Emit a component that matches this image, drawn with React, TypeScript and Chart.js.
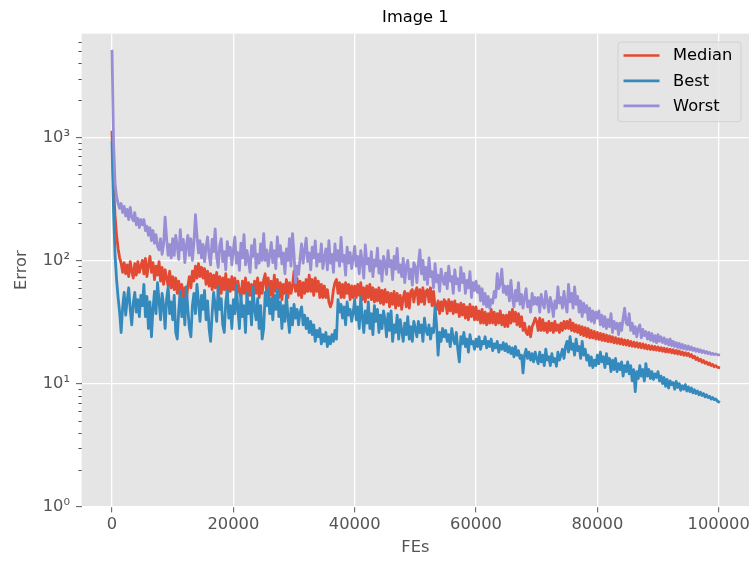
import React, { useEffect, useRef } from "react";
import { Chart, registerables } from "chart.js";

Chart.register(...registerables);

const FONT = "'DejaVu Sans', 'Liberation Sans', sans-serif";

const chartTitle = "Image 1";
const xLabel = "FEs";
const yLabel = "Error";
const seriesNames = ["Median", "Best", "Worst"];
const seriesColors = ["#E24A33", "#348ABD", "#988ED5"];

const fes = [
  0, 250, 500, 750, 1000, 1250, 1500, 1750, 2000, 2250, 2500, 2750, 3000, 3250, 3500, 3750, 4000, 4250, 4500, 4750,
  5000, 5250, 5500, 5750, 6000, 6250, 6500, 6750, 7000, 7250, 7500, 7750, 8000, 8250, 8500, 8750, 9000, 9250, 9500, 9750,
  10000, 10250, 10500, 10750, 11000, 11250, 11500, 11750, 12000, 12250, 12500, 12750, 13000, 13250, 13500, 13750, 14000, 14250, 14500, 14750,
  15000, 15250, 15500, 15750, 16000, 16250, 16500, 16750, 17000, 17250, 17500, 17750, 18000, 18250, 18500, 18750, 19000, 19250, 19500, 19750,
  20000, 20250, 20500, 20750, 21000, 21250, 21500, 21750, 22000, 22250, 22500, 22750, 23000, 23250, 23500, 23750, 24000, 24250, 24500, 24750,
  25000, 25250, 25500, 25750, 26000, 26250, 26500, 26750, 27000, 27250, 27500, 27750, 28000, 28250, 28500, 28750, 29000, 29250, 29500, 29750,
  30000, 30250, 30500, 30750, 31000, 31250, 31500, 31750, 32000, 32250, 32500, 32750, 33000, 33250, 33500, 33750, 34000, 34250, 34500, 34750,
  35000, 35250, 35500, 35750, 36000, 36250, 36500, 36750, 37000, 37250, 37500, 37750, 38000, 38250, 38500, 38750, 39000, 39250, 39500, 39750,
  40000, 40250, 40500, 40750, 41000, 41250, 41500, 41750, 42000, 42250, 42500, 42750, 43000, 43250, 43500, 43750, 44000, 44250, 44500, 44750,
  45000, 45250, 45500, 45750, 46000, 46250, 46500, 46750, 47000, 47250, 47500, 47750, 48000, 48250, 48500, 48750, 49000, 49250, 49500, 49750,
  50000, 50250, 50500, 50750, 51000, 51250, 51500, 51750, 52000, 52250, 52500, 52750, 53000, 53250, 53500, 53750, 54000, 54250, 54500, 54750,
  55000, 55250, 55500, 55750, 56000, 56250, 56500, 56750, 57000, 57250, 57500, 57750, 58000, 58250, 58500, 58750, 59000, 59250, 59500, 59750,
  60000, 60250, 60500, 60750, 61000, 61250, 61500, 61750, 62000, 62250, 62500, 62750, 63000, 63250, 63500, 63750, 64000, 64250, 64500, 64750,
  65000, 65250, 65500, 65750, 66000, 66250, 66500, 66750, 67000, 67250, 67500, 67750, 68000, 68250, 68500, 68750, 69000, 69250, 69500, 69750,
  70000, 70250, 70500, 70750, 71000, 71250, 71500, 71750, 72000, 72250, 72500, 72750, 73000, 73250, 73500, 73750, 74000, 74250, 74500, 74750,
  75000, 75250, 75500, 75750, 76000, 76250, 76500, 76750, 77000, 77250, 77500, 77750, 78000, 78250, 78500, 78750, 79000, 79250, 79500, 79750,
  80000, 80250, 80500, 80750, 81000, 81250, 81500, 81750, 82000, 82250, 82500, 82750, 83000, 83250, 83500, 83750, 84000, 84250, 84500, 84750,
  85000, 85250, 85500, 85750, 86000, 86250, 86500, 86750, 87000, 87250, 87500, 87750, 88000, 88250, 88500, 88750, 89000, 89250, 89500, 89750,
  90000, 90250, 90500, 90750, 91000, 91250, 91500, 91750, 92000, 92250, 92500, 92750, 93000, 93250, 93500, 93750, 94000, 94250, 94500, 94750,
  95000, 95250, 95500, 95750, 96000, 96250, 96500, 96750, 97000, 97250, 97500, 97750, 98000, 98250, 98500, 98750, 99000, 99250, 99500, 99750,
  100000,
];

const median = [
  1100, 400, 230, 160, 125, 105, 95, 80, 96, 78, 92, 74, 98, 82, 72, 94, 76, 98, 80, 90,
  100, 78, 104, 74, 92, 108, 80, 96, 70, 90, 76, 98, 68, 88, 64, 84, 72, 62, 82, 60,
  74, 58, 72, 54, 68, 50, 64, 46, 60, 48, 62, 74, 60, 82, 68, 90, 72, 94, 74, 88,
  72, 86, 64, 82, 62, 78, 58, 76, 60, 80, 56, 74, 54, 72, 58, 78, 52, 70, 56, 74,
  58, 72, 52, 68, 56, 50, 68, 54, 72, 50, 66, 52, 64, 48, 68, 54, 72, 50, 66, 54,
  70, 78, 54, 72, 52, 68, 50, 76, 56, 70, 50, 66, 48, 64, 54, 70, 50, 66, 54, 62,
  82, 56, 72, 52, 68, 50, 66, 54, 70, 56, 76, 56, 70, 52, 72, 56, 68, 50, 64, 50,
  62, 50, 58, 46, 42, 46, 58, 66, 70, 54, 66, 50, 64, 50, 66, 54, 64, 48, 62, 50,
  62, 50, 64, 52, 66, 48, 60, 46, 62, 50, 64, 48, 60, 46, 58, 47, 60, 45, 57, 44,
  58, 46, 55, 42, 54, 44, 56, 41, 54, 43, 52, 40, 50, 56, 42, 54, 41, 56, 58, 46,
  56, 60, 44, 58, 46, 60, 44, 56, 58, 46, 60, 43, 56, 42, 40, 47, 37, 46, 39, 48,
  46, 37, 48, 39, 46, 37, 47, 38, 44, 35, 45, 36, 44, 34, 42, 33, 44, 35, 42, 33,
  42, 33, 39, 31, 40, 31, 38, 30, 37, 31, 40, 31, 38, 30, 37, 31, 39, 30, 36, 29,
  36, 29, 38, 31, 40, 32, 38, 30, 37, 29, 35, 27, 31, 26, 25, 29, 24, 29, 31, 34,
  32, 27, 34, 27, 33, 27, 31, 26, 32, 27, 31, 26, 32, 27, 30, 26, 31, 27, 32, 28,
  32, 28, 33, 27, 31, 26.5, 30, 26, 29.5, 25, 29, 24.5, 28.5, 24, 28, 23.5, 27, 23.5, 26.5, 23,
  26, 22.8, 25.6, 22.4, 25.2, 22.2, 24.8, 21.9, 24.4, 21.8, 24, 21.4, 23.6, 21.2, 23.2, 21, 23, 20.7, 22.6, 20.5,
  22.4, 20.3, 22, 20.1, 21.7, 19.9, 21.5, 19.7, 21.2, 19.5, 21, 19.3, 20.7, 19.1, 20.4, 18.9, 20.2, 18.8, 20, 18.7,
  19.8, 18.5, 19.6, 18.3, 19.4, 18.1, 19.2, 18, 19, 17.8, 18.8, 17.6, 18.6, 17.4, 18.4, 17.2, 18.1, 17, 17.8, 16.9,
  17.6, 16.6, 17.2, 16.2, 16.7, 15.7, 16.2, 15.3, 15.8, 14.9, 15.4, 14.6, 15, 14.3, 14.7, 14, 14.3, 13.7, 14, 13.6,
  13.5,
];

const best = [
  900, 250, 110, 70, 50, 38, 26, 42, 55, 36, 48, 60, 40, 30, 45, 55, 38, 48, 35, 52,
  43, 64, 35, 51, 28, 46, 24, 40, 56, 37, 66, 47, 33, 54, 43, 28, 49, 61, 37, 46,
  33, 52, 26, 23, 40, 57, 35, 49, 30, 61, 40, 28, 24, 43, 54, 37, 64, 46, 32, 52,
  40, 57, 33, 47, 28, 22, 37, 55, 43, 32, 61, 40, 49, 30, 26, 46, 57, 34, 43, 28,
  48, 37, 63, 40, 28, 52, 35, 43, 26, 55, 37, 46, 30, 61, 40, 33, 49, 28, 43, 23,
  28, 55, 43, 60, 37, 49, 33, 52, 40, 58, 35, 46, 28, 43, 32, 52, 35, 26, 41, 30,
  44, 34, 40, 30, 38, 42, 30, 36, 28, 34, 26, 32, 25, 30, 22, 27, 24, 28, 21, 25,
  22, 26, 20, 24, 21, 25, 22, 27, 23, 48, 38, 44, 34, 42, 30, 46, 36, 40, 32, 38,
  48, 33, 42, 28, 51, 35, 26, 39, 31, 46, 28, 37, 25, 43, 32, 40, 26, 36, 28, 39,
  33, 24, 37, 27, 39, 22, 30, 26, 36, 23, 33, 27, 22, 31, 25, 35, 23, 29, 22, 32,
  28, 24, 32, 26, 30, 22, 34, 27, 25, 30, 23, 28, 26, 42, 30, 17, 26, 22, 28, 24,
  27, 22, 25, 20, 28, 23, 21, 26, 19, 15, 24, 21, 26, 20, 23, 18, 25, 21, 22, 19,
  23, 20, 24, 19, 22, 21, 24, 19.5, 22, 20, 23, 18.5, 21, 19.5, 22, 18, 20.5, 19, 21.5, 18.5,
  21, 18, 20, 17.5, 19.5, 16.5, 20, 17, 18.5, 16, 17, 12.2, 17, 19, 16, 18, 15.5, 17.5, 15, 18,
  16, 14.5, 18, 15, 17, 14, 19, 15.5, 16.5, 14, 17.5, 15, 16, 13.8, 18, 15.5, 17, 19, 16, 20,
  22, 18, 24, 19, 21, 17, 23, 18.5, 20, 16, 22, 17, 19, 15.5, 17, 14, 16.5, 13.5, 15.5, 14,
  17, 14.5, 18, 15, 16.5, 13.5, 17.5, 14.5, 16, 12.5, 15.5, 13, 16, 12.5, 14.5, 13, 15, 11.5, 14, 12.5,
  15, 12, 14, 10.5, 13, 8.6, 12.5, 11, 14, 11.5, 13, 10.5, 14.5, 11.5, 13, 11, 12.5, 10.8, 12, 11.2,
  12.5, 10.5, 11.5, 10, 11.2, 9.5, 10.8, 9.2, 10.5, 9.8, 10.2, 9, 10.4, 9.3, 10, 8.8, 9.6, 9, 9.8, 8.7,
  9.4, 8.6, 9.2, 8.4, 8.9, 8.3, 8.7, 8.1, 8.5, 8, 8.3, 7.8, 8.1, 7.7, 7.9, 7.5, 7.7, 7.4, 7.5, 7.25,
  7.1,
];

const worst = [
  5000, 900, 420, 330, 290, 265, 290, 245, 275, 230, 260, 215, 270, 225, 210, 245, 195, 220, 185, 215,
  195, 215, 175, 190, 160, 185, 145, 175, 138, 162, 130, 122, 150, 112, 135, 225, 150, 110, 135, 105,
  150, 110, 160, 130, 102, 178, 122, 148, 96, 132, 160, 110, 150, 100, 140, 235, 160, 115, 145, 105,
  135, 98, 128, 155, 110, 92, 148, 118, 180, 106, 88, 132, 150, 98, 118, 84, 142, 110, 128, 92,
  122, 155, 95, 116, 83, 138, 105, 162, 92, 120, 100, 80, 132, 108, 148, 87, 112, 95, 136, 100,
  165, 100, 122, 90, 110, 140, 96, 120, 86, 155, 108, 132, 94, 115, 78, 124, 100, 150, 90, 165,
  112, 66, 90, 77, 105, 136, 95, 120, 152, 98, 115, 84, 128, 105, 144, 90, 112, 98, 136, 86,
  105, 124, 84, 145, 95, 112, 80, 136, 100, 120, 90, 154, 98, 110, 76, 128, 95, 116, 86, 105,
  130, 90, 108, 78, 120, 98, 72, 134, 94, 104, 82, 118, 74, 101, 90, 126, 79, 99, 68, 108,
  95, 77, 120, 89, 100, 70, 108, 85, 125, 80, 92, 74, 104, 66, 89, 100, 71, 85, 63, 96,
  89, 66, 94, 122, 78, 100, 70, 88, 64, 105, 74, 81, 60, 94, 67, 76, 56, 85, 70, 64,
  79, 59, 90, 68, 74, 54, 84, 65, 71, 57, 88, 66, 78, 54, 69, 60, 81, 50, 66, 57,
  68, 55, 62, 47, 59, 44, 54, 42, 51, 41, 48, 45, 56, 50, 78, 59, 65, 85, 55, 62,
  53, 62, 47, 69, 50, 42, 57, 47, 66, 44, 53, 41, 50, 59, 42, 47, 38, 54, 44, 50,
  44, 50, 38, 53, 45, 41, 56, 47, 38, 50, 44, 35, 47, 41, 61, 45, 50, 41, 56, 44,
  38, 64, 46, 54, 41, 61, 44, 51, 38, 47, 35, 45, 38, 43, 33, 41, 32, 39, 31, 38,
  34, 39, 30, 36, 29, 35, 28, 33, 29, 37, 26, 32, 28, 31, 25, 31, 27, 34, 41, 31,
  30, 37, 27, 31, 25.5, 29, 24, 28, 30, 23.5, 27.5, 24.5, 26.5, 23, 26, 22.5, 25.5, 22, 24.5, 21.5,
  25, 22, 24, 21.5, 23.5, 21, 22.8, 20.6, 23, 20.3, 22, 20, 21.5, 19.6, 21.2, 19.4, 20.8, 19.2, 20.4, 18.9,
  20.2, 18.8, 19.8, 18.6, 19.4, 18.3, 19.1, 18.1, 18.8, 17.9, 18.5, 17.7, 18.2, 17.5, 17.9, 17.3, 17.6, 17.2, 17.4, 17.2,
  17.1,
];

const xTicks = [0, 20000, 40000, 60000, 80000, 100000];
const xTickLabels = ["0", "20000", "40000", "60000", "80000", "100000"];
const yMajorTicks = [1, 10, 100, 1000];
const yTickLabels = ["10\u2070", "10\u00B9", "10\u00B2", "10\u00B3"];
const yMinorTicks = [
  2, 3, 4, 5, 6, 7, 8, 9,
  20, 30, 40, 50, 60, 70, 80, 90,
  200, 300, 400, 500, 600, 700, 800, 900,
  2000, 3000, 4000, 5000, 6000,
];
const xMin = -5000;
const xMax = 105000;
const yMin = 1;
const yMax = 6950;

const seriesValues = [median, best, worst];

const decorPlugin = {
  id: "decor",
  beforeDraw(chart: any) {
    const { ctx, chartArea: a } = chart;
    ctx.save();
    ctx.fillStyle = "#ffffff";
    ctx.fillRect(0, 0, chart.width, chart.height);
    ctx.fillStyle = "#E5E5E5";
    ctx.fillRect(a.left, a.top, a.right - a.left, a.bottom - a.top);
    ctx.restore();
  },
  afterDraw(chart: any) {
    const { ctx, chartArea: a } = chart;
    const ys = chart.scales.y;
    ctx.save();
    ctx.strokeStyle = "#555555";
    ctx.lineWidth = 1;
    for (const v of yMinorTicks) {
      const y = Math.round(ys.getPixelForValue(v)) + 0.5;
      if (y < a.top - 1 || y > a.bottom + 1) continue;
      ctx.beginPath();
      ctx.moveTo(a.left - 3.3, y);
      ctx.lineTo(a.left, y);
      ctx.stroke();
    }
    const w = 123;
    const h = 79.5;
    const lx = a.right - 8 - w;
    const ly = a.top + 8.5;
    const r = 3;
    ctx.beginPath();
    ctx.moveTo(lx + r, ly);
    ctx.lineTo(lx + w - r, ly);
    ctx.quadraticCurveTo(lx + w, ly, lx + w, ly + r);
    ctx.lineTo(lx + w, ly + h - r);
    ctx.quadraticCurveTo(lx + w, ly + h, lx + w - r, ly + h);
    ctx.lineTo(lx + r, ly + h);
    ctx.quadraticCurveTo(lx, ly + h, lx, ly + h - r);
    ctx.lineTo(lx, ly + r);
    ctx.quadraticCurveTo(lx, ly, lx + r, ly);
    ctx.closePath();
    ctx.fillStyle = "rgba(229,229,229,0.8)";
    ctx.fill();
    ctx.strokeStyle = "rgba(204,204,204,0.8)";
    ctx.lineWidth = 1;
    ctx.stroke();
    const rows = [13.4, 38.7, 63.7];
    ctx.font = `16.3px ${FONT}`;
    ctx.textBaseline = "middle";
    ctx.textAlign = "left";
    chart.data.datasets.forEach((ds: any, i: number) => {
      const yy = ly + rows[i];
      ctx.strokeStyle = ds.borderColor;
      ctx.lineWidth = 2.6;
      ctx.lineCap = "butt";
      ctx.beginPath();
      ctx.moveTo(lx + 5.5, yy);
      ctx.lineTo(lx + 41.5, yy);
      ctx.stroke();
      ctx.fillStyle = "#000000";
      ctx.fillText(ds.label, lx + 55, yy + 0.5);
    });
    ctx.restore();
  },
};

export default function App() {
  const ref = useRef<HTMLCanvasElement>(null);

  useEffect(() => {
    const canvas = ref.current;
    if (!canvas) return;
    const datasets = seriesNames.map((name, i) => ({
      label: name,
      data: fes.map((x, j) => ({ x, y: seriesValues[i][j] })),
      borderColor: seriesColors[i],
      backgroundColor: seriesColors[i],
      borderWidth: 2.8,
      pointRadius: 0,
      pointHoverRadius: 0,
      tension: 0,
      borderJoinStyle: "round" as const,
      borderCapStyle: "square" as const,
      fill: false,
      order: 2 - i,
    }));

    const tickFont = { family: FONT, size: 16.3 };

    const chart = new Chart(canvas, {
      type: "line",
      data: { datasets },
      plugins: [decorPlugin],
      options: {
        responsive: false,
        animation: false,
        devicePixelRatio: 1,
        events: [],
        layout: { padding: { left: 0, right: 4, top: 0, bottom: 0 } },
        plugins: {
          legend: { display: false },
          tooltip: { enabled: false },
          title: {
            display: true,
            text: chartTitle,
            fullSize: false,
            color: "#000000",
            font: { family: FONT, size: 16.3, weight: "normal" },
            padding: { top: 7.7, bottom: 6.4 },
          },
        },
        scales: {
          x: {
            type: "linear",
            min: xMin,
            max: xMax,
            afterBuildTicks: (s: any) => {
              s.ticks = xTicks.map((v) => ({ value: v }));
            },
            afterFit: (s: any) => {
              s.height = 55.3;
            },
            ticks: {
              autoSkip: false,
              maxRotation: 0,
              color: "#555555",
              font: tickFont,
              padding: 3,
              callback: (v: any) => {
                const k = xTicks.indexOf(Number(v));
                return k >= 0 ? xTickLabels[k] : "";
              },
            },
            grid: {
              color: "#ffffff",
              lineWidth: 1.3,
              drawTicks: true,
              tickLength: 5.7,
              tickColor: "#555555",
              tickWidth: 1,
            },
            border: { display: false },
            title: {
              display: true,
              text: xLabel,
              color: "#555555",
              font: { family: FONT, size: 16.3 },
              padding: { top: 0, bottom: 4.2 },
            },
          },
          y: {
            type: "logarithmic",
            min: yMin,
            max: yMax,
            afterBuildTicks: (s: any) => {
              s.ticks = yMajorTicks.map((v) => ({ value: v, major: true }));
            },
            afterFit: (s: any) => {
              s.width = 81.7;
            },
            ticks: {
              autoSkip: false,
              color: "#555555",
              font: tickFont,
              padding: 6,
              callback: (v: any) => {
                const k = yMajorTicks.indexOf(Number(v));
                return k >= 0 ? yTickLabels[k] : "";
              },
            },
            grid: {
              color: "#ffffff",
              lineWidth: 1.3,
              drawTicks: true,
              tickLength: 5.7,
              tickColor: "#555555",
              tickWidth: 1,
            },
            border: { display: false },
            title: {
              display: true,
              text: yLabel,
              color: "#555555",
              font: { family: FONT, size: 16.3 },
              padding: { top: 12, bottom: 0 },
            },
          },
        },
      },
    });
    return () => chart.destroy();
  }, []);

  return (
    <div
      style={{
        position: "fixed",
        left: 0,
        top: 0,
        width: 753,
        height: 562,
        background: "#ffffff",
      }}
    >
      <canvas
        ref={ref}
        width={753}
        height={562}
        style={{ display: "block", width: 753, height: 562 }}
      />
    </div>
  );
}
